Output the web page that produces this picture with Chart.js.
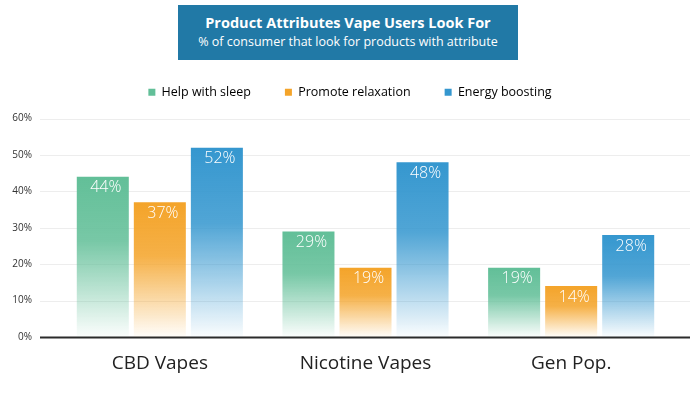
<!DOCTYPE html>
<html>
<head>
<meta charset="utf-8">
<script src="https://cdn.jsdelivr.net/npm/chart.js@4/dist/chart.umd.min.js"></script>
<style>
  html, body { margin: 0; padding: 0; background: #fff; }
  #wrap { position: relative; width: 700px; height: 397px; }
  #titleBox {
    position: absolute; left: 178px; top: 5px; width: 340px; height: 55px;
    background: #2179a6; color: #fff; text-align: center;
    font-family: "Open Sans", Lato, sans-serif; box-sizing: border-box; padding-top: 8px;
  }
  #titleBox .t { font-size: 14.5px; font-weight: 700; line-height: 20px; }
  #titleBox .s { font-size: 12.5px; line-height: 18px; }
</style>
</head>
<body>
<div id="wrap">
  <canvas id="chart" width="700" height="397"></canvas>
  <div id="titleBox">
    <div class="t">Product Attributes Vape Users Look For</div>
    <div class="s">% of consumer that look for products with attribute</div>
  </div>
</div>
<script>
// ---------- Data ----------
const categories = ['CBD Vapes', 'Nicotine Vapes', 'Gen Pop.'];
const seriesNames = ['Help with sleep', 'Promote relaxation', 'Energy boosting'];
const sleepValues = [44, 29, 19];
const relaxValues = [37, 19, 14];
const energyValues = [52, 48, 28];
const yTicks = [0, 10, 20, 30, 40, 50, 60];

const colors = ['#62bf98', '#f4a42a', '#3597cf'];
const FONT = '"Open Sans", Lato, sans-serif';

// vertical fade per bar: full colour at top, white at the base
function barFill (color) {
  return ctx => {
    const chart = ctx.chart;
    const area = chart.chartArea;
    if (!area || ctx.parsed == null) return color;
    const top = chart.scales.y.getPixelForValue(ctx.parsed.y);
    const g = chart.ctx.createLinearGradient(0, top, 0, area.bottom);
    g.addColorStop(0, color);
    g.addColorStop(0.4, color + 'dc');
    g.addColorStop(1, color + '06');
    return g;
  };
}

// more room under the legend, and centre it on the page rather than the padded box
const legendTweak = {
  id: 'legendTweak',
  beforeInit (chart) {
    const fit = chart.legend.fit;
    chart.legend.fit = function () { fit.call(this); this.height += 10; };
  },
  afterLayout (chart) {
    chart.legend.left += 11;
    chart.legend.right += 11;
  }
};

// grid lines wider than the plot + dark base line
const gridPlugin = {
  id: 'grid',
  beforeDatasetsDraw (chart) {
    const { ctx } = chart;
    const y = chart.scales.y;
    ctx.save();
    yTicks.forEach(v => {
      const py = Math.round(y.getPixelForValue(v)) + 0.5;
      ctx.beginPath();
      ctx.moveTo(40, py);
      ctx.lineTo(690, py);
      ctx.strokeStyle = v === 0 ? '#2b2b2b' : '#ededed';
      ctx.lineWidth = v === 0 ? 2 : 1;
      ctx.stroke();
    });
    ctx.restore();
  }
};

// white value labels inside top of each bar
const valuePlugin = {
  id: 'values',
  afterDatasetsDraw (chart) {
    const { ctx } = chart;
    ctx.save();
    ctx.font = '300 16px ' + FONT;
    ctx.fillStyle = '#ffffff';
    ctx.textAlign = 'center';
    ctx.textBaseline = 'top';
    chart.data.datasets.forEach((ds, i) => {
      chart.getDatasetMeta(i).data.forEach((bar, j) => {
        ctx.fillText(ds.data[j] + '%', bar.x + 3, bar.y + 3);
      });
    });
    ctx.restore();
  }
};

new Chart(document.getElementById('chart'), {
  type: 'bar',
  data: {
    labels: categories,
    datasets: [
      { label: seriesNames[0], data: sleepValues, backgroundColor: barFill(colors[0]) },
      { label: seriesNames[1], data: relaxValues, backgroundColor: barFill(colors[1]) },
      { label: seriesNames[2], data: energyValues, backgroundColor: barFill(colors[2]) }
    ]
  },
  options: {
    responsive: false,
    animation: false,
    categoryPercentage: 0.832,
    barPercentage: 0.912,
    layout: { padding: { top: 52, left: 4, right: 26, bottom: 0 } },
    scales: {
      x: {
        afterFit: s => { s.height = 60; },
        grid: { display: false },
        border: { display: false },
        ticks: { color: '#222', font: { family: FONT, size: 19 }, padding: 7 }
      },
      y: {
        min: 0, max: 60,
        afterFit: s => { s.width = 53; },
        afterBuildTicks: s => { s.ticks = yTicks.map(v => ({ value: v })); },
        grid: { display: false, drawTicks: false },
        border: { display: false },
        ticks: { color: '#333', font: { family: FONT, size: 10 }, padding: 25, callback: v => v + '%' }
      }
    },
    plugins: {
      legend: {
        labels: {
          font: { family: FONT, size: 12.5 },
          color: '#333',
          boxWidth: 7, boxHeight: 7,
          padding: 34,
          generateLabels: chart => seriesNames.map((n, i) => ({
            text: n, fillStyle: colors[i], strokeStyle: colors[i], lineWidth: 0, datasetIndex: i
          }))
        }
      },
      tooltip: { enabled: false }
    }
  },
  plugins: [legendTweak, gridPlugin, valuePlugin]
});
</script>
</body>
</html>
